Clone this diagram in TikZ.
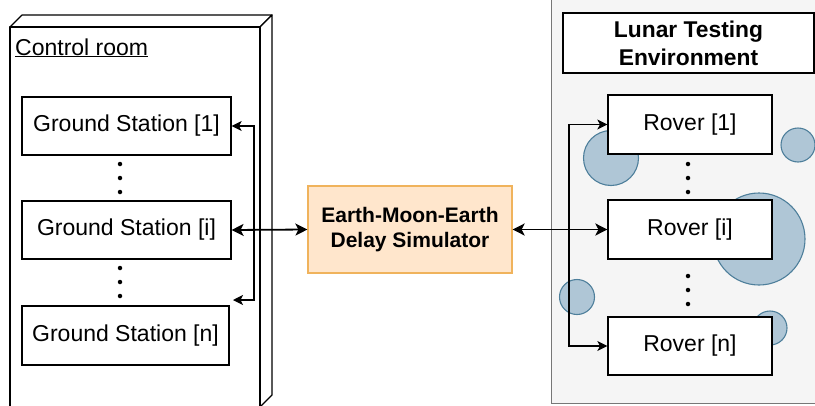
\documentclass[tikz,border=0pt]{standalone}
\usepackage{fontspec}
\setmainfont{Liberation Sans}
\usetikzlibrary{arrows.meta}
\definecolor{simfill}{HTML}{FFE6CC}
\definecolor{simdraw}{HTML}{F0B35C}
\definecolor{envfill}{HTML}{F5F5F5}
\definecolor{envdraw}{HTML}{777777}
\definecolor{rockfill}{HTML}{AFC6D6}
\definecolor{rockdraw}{HTML}{4E7F9B}
\begin{document}
\begin{tikzpicture}[x=1pt,y=-1pt,
  box/.style={draw=black, fill=white, line width=1.2pt, inner sep=0pt,
    font=\fontsize{23}{27}\selectfont},
  boldbox/.style={draw=black, fill=white, line width=1.2pt, inner sep=0pt, align=center,
    font=\fontsize{21.5}{27}\selectfont\bfseries},
  conn/.style={line width=1.2pt, draw=black},
  mainconn/.style={line width=1.8pt, draw=black},
  tipr/.style={-{Stealth[length=10pt,width=10pt,inset=2.5pt]}},
  tipb/.style={{Stealth[length=12pt,width=12pt,inset=3pt]}-{Stealth[length=12pt,width=12pt,inset=3pt]}},
  tdot/.style={circle, fill=black, minimum size=4.5pt, inner sep=0pt},
  rock/.style={fill=rockfill, draw=rockdraw, line width=1.1pt},
  cubeline/.style={draw=black, fill=white, line width=1.2pt, line join=round}]
\useasboundingbox (0,0) rectangle (815,405);

% control room cube
\draw[cubeline] (10,27) -- (22,15) -- (272,15) -- (260,27) -- cycle;
\draw[cubeline] (260,27) -- (272,15) -- (272,395) -- (260,407) -- cycle;
\draw[cubeline] (10,27) rectangle (260,420);
\node[anchor=base west, font=\fontsize{23}{27}\selectfont, inner sep=0pt] (ctl) at (15,55) {\underline{Control room}};

% lunar environment
\draw[fill=envfill, draw=envdraw, line width=1pt] (551,-5) rectangle (822,403);
\node[boldbox, minimum width=251pt, minimum height=60pt, font=\fontsize{22.8}{28}\selectfont\bfseries] (title) at (688.5,43) {Lunar Testing\\Environment};

% rocks
\draw[rock] (611,158) circle (27.5);
\draw[rock] (798,145) circle (17);
\draw[rock] (759,239) circle (46);
\draw[rock] (577,297) circle (17.5);
\draw[rock] (770,328) circle (17);

% ground stations
\node[box, minimum width=209pt, minimum height=58pt] (gs1) at (126.5,126) {Ground Station [1]};
\node[box, minimum width=209pt, minimum height=58pt] (gsi) at (126.5,230) {Ground Station [i]};
\node[box, minimum width=207pt, minimum height=59pt] (gsn) at (125.5,335.5) {Ground Station [n]};
\foreach \y [count=\k] in {164,178,192} {\node[tdot] (gda\k) at (120,\y) {};}
\foreach \y [count=\k] in {268,282,296} {\node[tdot] (gdb\k) at (120,\y) {};}

% simulator
\node[draw=simdraw, fill=simfill, line width=1.2pt, minimum width=204pt, minimum height=87pt,
  align=center, font=\fontsize{21}{25}\selectfont\bfseries, inner sep=0pt] (sim) at (410,229.5)
  {Earth-Moon-Earth\\Delay Simulator};

% rovers
\node[box, minimum width=164pt, minimum height=59pt] (r1) at (690,124.5) {Rover [1]};
\node[box, minimum width=164pt, minimum height=59pt] (ri) at (690,229.5) {Rover [i]};
\node[box, minimum width=164pt, minimum height=58pt] (rn) at (690,346) {Rover [n]};
\foreach \y [count=\k] in {164,178,192} {\node[tdot] (rda\k) at (688,\y) {};}
\foreach \y [count=\k] in {276,290,304} {\node[tdot] (rdb\k) at (688,\y) {};}

% connectors left
\coordinate (jl) at (254,230);
\coordinate (gsnend) at (233,300);
\draw[conn, tipr] (jl) |- (gs1.east);
\draw[conn, tipr] (jl) |- (gsnend);
\draw[mainconn, tipb] (gsi.east) -- (sim.west);

% connectors right
\coordinate (jr) at (569,229.5);
\draw[conn, tipr] (jr) |- (r1.west);
\draw[conn, tipr] (jr) |- (rn.west);
\draw[mainconn, tipb] (sim.east) -- (ri.west);
\end{tikzpicture}
\end{document}
